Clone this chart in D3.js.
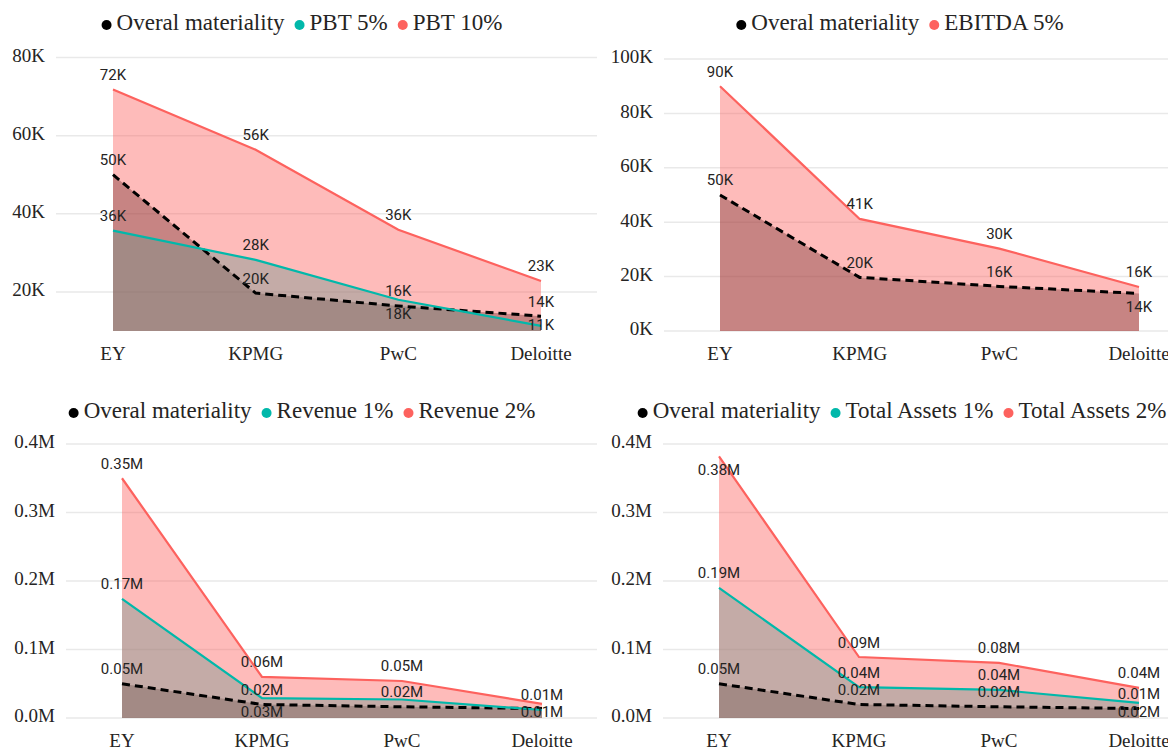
<!DOCTYPE html>
<html>
<head>
<meta charset="utf-8">
<script src="https://cdn.jsdelivr.net/npm/d3@7"></script>
<style>
  body { margin: 0; background: #fff; }
  svg { display: block; }
</style>
</head>
<body>
<svg id="chart" width="1168" height="749"></svg>
<script>
const categories = ["EY", "KPMG", "PwC", "Deloitte"];

// values
const overall = [50000, 19700, 16400, 13800];
const pbt5 = [35700, 28200, 18000, 11300];
const pbt10 = [71800, 56400, 35900, 22800];
const ebitda5 = [90000, 41200, 30300, 16200];
const revenue1 = [174000, 29000, 27000, 11700];
const revenue2 = [350000, 60000, 54000, 20500];
const assets1 = [190000, 45000, 41000, 22000];
const assets2 = [382000, 89000, 80500, 44000];

const ticksPbt = [20000, 40000, 60000, 80000];
const ticksEbitda = [0, 20000, 40000, 60000, 80000, 100000];
const ticksM = [0, 100000, 200000, 300000, 400000];

const COLORS = { overall: "#000000", low: "#01B8AA", high: "#FD625E" };

const fmtK = (v) => Math.round(v / 1000) + "K";
const fmtM = (v) => (v / 1e6).toFixed(2) + "M";
const tickK = (v) => v / 1000 + "K";
const tickM = (v) => (v / 1e6).toFixed(1) + "M";

// a = label above, b = below, "" = hidden (as power bi dropped them)
const panels = [
  {
    names: ["Overal materiality", "PBT 5%", "PBT 10%"],
    series: [overall, pbt5, pbt10],
    colors: [COLORS.overall, COLORS.low, COLORS.high],
    domain: [10000, 80000], ticks: ticksPbt, tickFmt: tickK, fmt: fmtK,
    labels: [["a", "a", "a", "a"], ["a", "a", "b", "b"], ["a", "a", "a", "a"]],
    box: { cx: 302, legendY: 25, gx0: 56, gx1: 597, tickX: 45, x0: 113, x1: 541, top: 57.5, bottom: 331, catY: 356 },
  },
  {
    names: ["Overal materiality", "EBITDA 5%"],
    series: [overall, ebitda5],
    colors: [COLORS.overall, COLORS.high],
    domain: [0, 100000], ticks: ticksEbitda, tickFmt: tickK, fmt: fmtK,
    labels: [["a", "a", "a", "b"], ["a", "a", "a", "a"]],
    box: { cx: 900, legendY: 25, gx0: 664, gx1: 1168, tickX: 653, x0: 720, x1: 1139, top: 59, bottom: 331, catY: 356 },
  },
  {
    names: ["Overal materiality", "Revenue 1%", "Revenue 2%"],
    series: [overall, revenue1, revenue2],
    colors: [COLORS.overall, COLORS.low, COLORS.high],
    domain: [0, 400000], ticks: ticksM, tickFmt: tickM, fmt: fmtM,
    labels: [["a", "a", "a", "b"], ["a", "b", "", "a"], ["a", "a", "a", ""]],
    box: { cx: 302, legendY: 413, gx0: 66, gx1: 597, tickX: 55, x0: 122, x1: 542, top: 444, bottom: 718, catY: 743 },
  },
  {
    names: ["Overal materiality", "Total Assets 1%", "Total Assets 2%"],
    series: [overall, assets1, assets2],
    colors: [COLORS.overall, COLORS.low, COLORS.high],
    domain: [0, 400000], ticks: ticksM, tickFmt: tickM, fmt: fmtM,
    labels: [["a", "a", "a", "a"], ["a", "a", "a", "b"], ["b", "a", "a", "a"]],
    box: { cx: 902, legendY: 413, gx0: 663, gx1: 1168, tickX: 652, x0: 719, x1: 1139, top: 444, bottom: 718, catY: 743 },
  },
];

const svg = d3.select("#chart");
const areaOpacity = [0.38, 0.4, 0.43];

const drawPanel = (p) => {
  const b = p.box;
  const g = svg.append("g");

  const x = d3.scalePoint().domain(categories).range([b.x0, b.x1]);
  const y = d3.scaleLinear().domain(p.domain).range([b.bottom, b.top]);

  // gridlines
  g.selectAll(".grid")
    .data(p.ticks)
    .join("line")
    .attr("x1", b.gx0)
    .attr("x2", b.gx1)
    .attr("y1", (d) => y(d))
    .attr("y2", (d) => y(d))
    .attr("stroke", "#e9e9e9")
    .attr("stroke-width", 1.5);

  // y tick labels
  g.selectAll(".ytick")
    .data(p.ticks)
    .join("text")
    .attr("x", b.tickX)
    .attr("y", (d) => y(d))
    .attr("text-anchor", "end")
    .attr("dominant-baseline", "middle")
    .attr("font-family", "'Liberation Serif', 'Times New Roman', serif")
    .attr("font-size", 19)
    .attr("fill", "#252423")
    .text(p.tickFmt);

  // x tick labels
  g.selectAll(".xtick")
    .data(categories)
    .join("text")
    .attr("x", (d) => x(d))
    .attr("y", b.catY)
    .attr("text-anchor", "middle")
    .attr("dominant-baseline", "middle")
    .attr("font-family", "'Liberation Serif', 'Times New Roman', serif")
    .attr("font-size", 19)
    .attr("fill", "#252423")
    .text((d) => d);

  const area = d3
    .area()
    .x((d, i) => x(categories[i]))
    .y0(b.bottom)
    .y1((d) => y(d));
  const line = d3
    .line()
    .x((d, i) => x(categories[i]))
    .y((d) => y(d));

  // areas, overall first so the others lay over it
  p.series.forEach((s, k) => {
    g.append("path")
      .attr("d", area(s))
      .attr("fill", p.colors[k])
      .attr("fill-opacity", areaOpacity[p.colors[k] === COLORS.high ? 2 : k]);
  });

  // lines
  p.series.forEach((s, k) => {
    const isOverall = k === 0;
    g.append("path")
      .attr("d", line(s))
      .attr("fill", "none")
      .attr("stroke", p.colors[k])
      .attr("stroke-width", isOverall ? 3 : 2.2)
      .attr("stroke-dasharray", isOverall ? "8,5" : null);
  });

  // data labels
  p.series.forEach((s, k) => {
    s.forEach((v, i) => {
      const pos = p.labels[k][i];
      if (!pos) return;
      const py = y(v);
      const ly = pos === "a" ? py - 13.5 : Math.min(py + 15, b.bottom - 5);
      g.append("text")
        .attr("x", x(categories[i]))
        .attr("y", ly)
        .attr("text-anchor", "middle")
        .attr("dominant-baseline", "middle")
        .attr("font-family", "Roboto, sans-serif")
        .attr("font-size", 15)
        .attr("fill", "#252423")
        .text(p.fmt(v));
    });
  });

  // legend
  const lg = g.append("g");
  let cursor = 0;
  p.names.forEach((name, k) => {
    lg.append("circle")
      .attr("cx", cursor + 5)
      .attr("cy", 0)
      .attr("r", 5)
      .attr("fill", p.colors[k]);
    const t = lg
      .append("text")
      .attr("x", cursor + 15)
      .attr("y", 0)
      .attr("dominant-baseline", "middle")
      .attr("font-family", "'Liberation Serif', 'Times New Roman', serif")
      .attr("font-size", 23)
      .attr("fill", "#252423")
      .text(name);
    cursor += 15 + t.node().getComputedTextLength() + 10;
  });
  const w = cursor - 10;
  lg.attr("transform", `translate(${b.cx - w / 2},${b.legendY})`);
};

panels.forEach(drawPanel);
</script>
</body>
</html>
